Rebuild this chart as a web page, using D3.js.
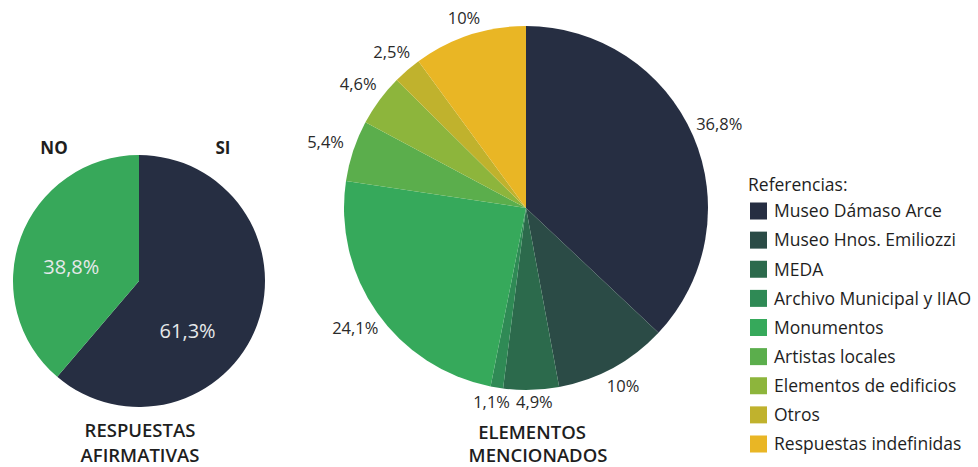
<!DOCTYPE html>
<html>
<head>
<meta charset="utf-8">
<script src="https://cdn.jsdelivr.net/npm/d3@7"></script>
<style>
  html, body { margin: 0; padding: 0; background: #ffffff; }
  svg { display: block; font-family: "Open Sans", "Noto Sans", sans-serif; }
</style>
</head>
<body>
<svg id="chart" width="978" height="467"></svg>
<script>
// Respuestas afirmativas
const yesNoLabels = ["SI", "NO"];
const yesNoValues = [61.3, 38.8];
const yesNoText = ["61,3%", "38,8%"];
const yesNoColors = ["#262e42", "#37a85a"];

// Elementos mencionados
const elementCategories = [
  "Museo Dámaso Arce",
  "Museo Hnos. Emiliozzi",
  "MEDA",
  "Archivo Municipal y IIAO",
  "Monumentos",
  "Artistas locales",
  "Elementos de edificios",
  "Otros",
  "Respuestas indefinidas"
];
const elementValues = [36.8, 10, 4.9, 1.1, 24.1, 5.4, 4.6, 2.5, 10];
const elementText = ["36,8%", "10%", "4,9%", "1,1%", "24,1%", "5,4%", "4,6%", "2,5%", "10%"];
const elementColors = ["#262e42", "#2b4b46", "#2c6a4c", "#2f8a55", "#36a95b",
                       "#5bae4c", "#8db53c", "#c0b22d", "#e9b625"];

const svg = d3.select("#chart");
const pie = d3.pie().sort(null).value(d => d.value);

// ---- left pie ----
const left = { cx: 139, cy: 281, r: 126 };
const gL = svg.append("g").attr("transform", `translate(${left.cx},${left.cy})`);
const leftData = pie(yesNoValues.map((v, i) => ({ value: v, i })));
const arcL = d3.arc().innerRadius(0).outerRadius(left.r);
gL.selectAll("path").data(leftData).join("path")
  .attr("d", arcL)
  .attr("fill", d => yesNoColors[d.data.i]);

// inner percentage labels, rotated a little away from each slice's middle
const labelArcL = d3.arc().innerRadius(left.r * 0.55).outerRadius(left.r * 0.55);
gL.selectAll("text.pct").data(leftData).join("text")
  .attr("class", "pct")
  .attr("transform", d => {
    const shift = d.data.i === 0 ? 0.44 : -0.14;
    const a = (d.startAngle + d.endAngle) / 2 + shift;
    const c = labelArcL.centroid({ startAngle: a, endAngle: a });
    return `translate(${c[0]},${c[1]})`;
  })
  .attr("text-anchor", "middle")
  .attr("dy", "0.36em")
  .attr("font-size", 20)
  .attr("fill", "#e6e9ea")
  .text(d => yesNoText[d.data.i]);

// category headers above the pie
svg.append("text").attr("x", 54).attr("y", 154).attr("text-anchor", "middle")
  .attr("font-size", 17).attr("font-weight", 700).attr("fill", "#1e1e1e").text(yesNoLabels[1]);
svg.append("text").attr("x", 223).attr("y", 154).attr("text-anchor", "middle")
  .attr("font-size", 17).attr("font-weight", 700).attr("fill", "#1e1e1e").text(yesNoLabels[0]);

const titleL = svg.append("text").attr("text-anchor", "middle")
  .attr("font-size", 18.5).attr("font-weight", 600).attr("fill", "#1e1e1e");
titleL.append("tspan").attr("x", 140).attr("y", 437).text("RESPUESTAS");
titleL.append("tspan").attr("x", 140).attr("y", 462).text("AFIRMATIVAS");

// ---- right pie ----
const right = { cx: 526, cy: 208, r: 182 };
const gR = svg.append("g").attr("transform", `translate(${right.cx},${right.cy})`);
const rightData = pie(elementValues.map((v, i) => ({ value: v, i })));
const arcR = d3.arc().innerRadius(0).outerRadius(right.r);
gR.selectAll("path").data(rightData).join("path")
  .attr("d", arcR)
  .attr("fill", d => elementColors[d.data.i]);

// outside labels: horizontal slices need a larger offset for the wider text
rightData.forEach(d => {
  const a = (d.startAngle + d.endAngle) / 2;
  const rr = right.r + 12 + 18 * Math.abs(Math.sin(a));
  d.lx = Math.sin(a) * rr;
  d.ly = -Math.cos(a) * rr;
});
const labelsR = gR.selectAll("text.pct").data(rightData).join("text")
  .attr("class", "pct")
  .attr("text-anchor", "middle")
  .attr("dy", "0.36em")
  .attr("font-size", 16.5)
  .attr("fill", "#2a2a2a")
  .text(d => elementText[d.data.i]);

// spread neighbouring labels that would otherwise collide
labelsR.each(function (d) { d.w = this.getComputedTextLength(); });
const gap = 6;
for (let pass = 0; pass < 5; pass++) {
  for (let k = 0; k < rightData.length; k++) {
    const p = rightData[k], q = rightData[(k + 1) % rightData.length];
    if (Math.abs(p.ly - q.ly) > 16) continue;
    const need = (p.w + q.w) / 2 + gap;
    const dist = Math.abs(p.lx - q.lx);
    if (dist < need) {
      const push = (need - dist) / 2;
      const dir = p.lx > q.lx ? 1 : -1;
      p.lx += dir * push;
      q.lx -= dir * push;
    }
  }
}
labelsR.attr("transform", d => `translate(${d.lx},${d.ly})`);

const titleR = svg.append("text").attr("text-anchor", "middle")
  .attr("font-size", 18.5).attr("font-weight", 600).attr("fill", "#1e1e1e");
titleR.append("tspan").attr("x", 532).attr("y", 439).text("ELEMENTOS");
titleR.append("tspan").attr("x", 538).attr("y", 462).text("MENCIONADOS");

// ---- legend ----
const legendY = d3.scalePoint().domain(elementCategories).range([211, 444]);
svg.append("text").attr("x", 748).attr("y", 191)
  .attr("font-size", 17.5).attr("fill", "#1e1e1e").text("Referencias:");
const leg = svg.append("g").selectAll("g").data(elementCategories).join("g")
  .attr("transform", d => `translate(750,${legendY(d)})`);
leg.append("rect").attr("x", 0).attr("y", -8.5).attr("width", 17).attr("height", 17)
  .attr("fill", (d, i) => elementColors[i]);
leg.append("text").attr("x", 24).attr("dy", "0.36em")
  .attr("font-size", 17.5).attr("fill", "#1e1e1e").text(d => d);
</script>
</body>
</html>
